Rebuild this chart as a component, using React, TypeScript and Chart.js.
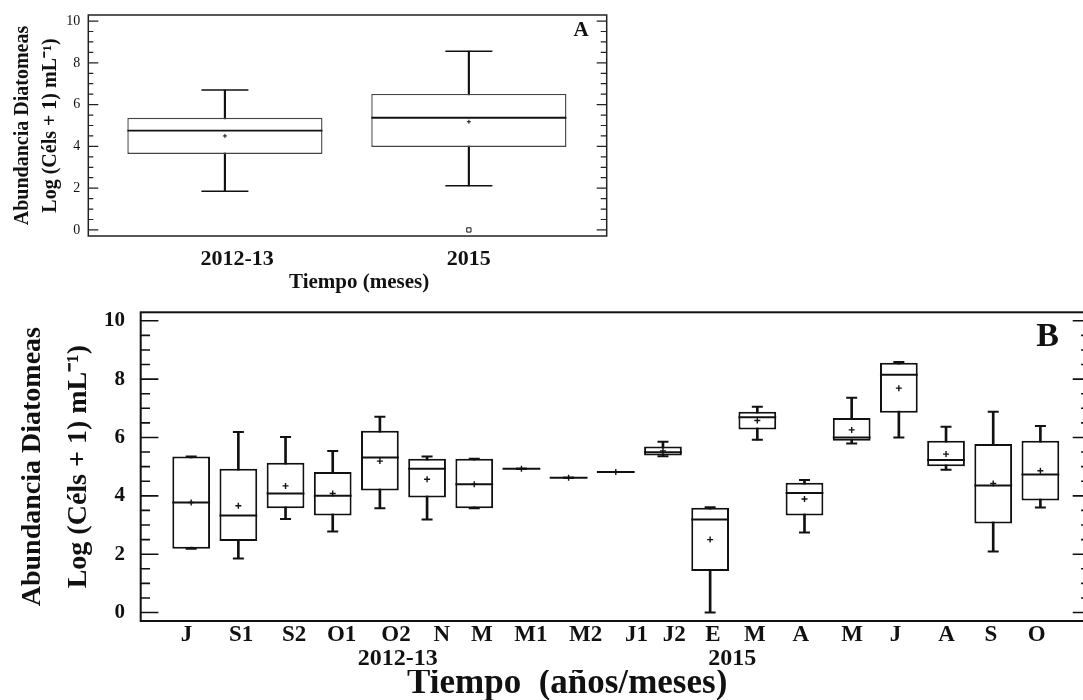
import React, { useEffect, useRef } from 'react';
import { Chart, registerables } from 'chart.js';

Chart.register(...registerables);

const FONT = "'Liberation Serif', 'Times New Roman', Times, serif";

// ---------- Panel A data ----------
const A_CATS = ['2012-13', '2015'];
const A_MIN = [1.85, 2.11];
const A_Q1 = [3.64, 3.97];
const A_MED = [4.75, 5.37];
const A_Q3 = [5.37, 6.51];
const A_MAX = [6.7, 8.56];
const A_MEAN = [4.5, 5.18];
const A_OUT_CAT = [1];
const A_OUT_VAL = [0];
// where the category labels / title sit along the category axis (category units)
const A_LABEL_AT = [0.05, 1.0];
const A_TITLE_AT = 0.55;

// ---------- Panel B data ----------
const B_CATS = ['J', 'S1', 'S2', 'O1', 'O2', 'N', 'M', 'M1', 'M2', 'J1', 'J2', 'E', 'M', 'A', 'M', 'J', 'A', 'S', 'O'];
const B_MIN = [2.19, 1.85, 3.21, 2.78, 3.57, 3.19, 3.57, 4.93, 4.62, 4.82, 5.36, 0.0, 5.92, 2.74, 5.79, 6.0, 4.89, 2.09, 3.6];
const B_Q1 = [2.19, 2.45, 3.57, 3.33, 4.18, 3.94, 3.57, 4.93, 4.62, 4.82, 5.38, 1.42, 6.27, 3.33, 5.89, 6.85, 5.01, 3.05, 3.84];
const B_MED = [3.77, 3.33, 4.08, 4.0, 5.31, 4.93, 4.4, 4.93, 4.62, 4.82, 5.49, 3.19, 6.69, 4.1, 6.0, 8.15, 5.23, 4.35, 4.73];
const B_Q3 = [5.35, 4.93, 5.13, 4.82, 6.23, 5.27, 5.27, 4.93, 4.62, 4.82, 5.69, 3.59, 6.88, 4.45, 6.67, 8.56, 5.89, 5.78, 5.89];
const B_MAX = [5.35, 6.19, 6.02, 5.54, 6.71, 5.35, 5.27, 4.93, 4.62, 4.82, 5.85, 3.61, 7.05, 4.54, 7.36, 8.59, 6.37, 6.88, 6.39];
const B_MEAN = [3.77, 3.66, 4.34, 4.08, 5.19, 4.57, 4.4, 4.93, 4.62, 4.82, 5.54, 2.5, 6.58, 3.89, 6.26, 7.69, 5.43, 4.42, 4.86];
// label anchors along the category axis (category units), as placed in the source figure
const B_LABEL_AT = [-0.1, 1.06, 2.18, 3.19, 4.34, 5.31, 6.16, 7.2, 8.36, 9.44, 10.24, 11.06, 11.95, 12.92, 14.01, 14.93, 16.01, 16.95, 17.92];
const B_YEAR_LABELS = ['2012-13', '2015'];
const B_YEAR_AT = [4.38, 11.47];
const B_TITLE_AT = 7.97;

// ---------- shared axis text ----------
const Y_TICKS = [0, 2, 4, 6, 8, 10];
const Y_MINOR_STEP = 0.5;
const Y_TITLE = ['Abundancia Diatomeas', 'Log (Céls + 1) mL⁻¹)'];
const A_X_TITLE = 'Tiempo (meses)';
const B_X_TITLE = 'Tiempo  (años/meses)';

const framePlugin = {
  id: 'frameTicks',
  afterDraw(chart: any, _args: any, o: any) {
    const { ctx, chartArea: a } = chart;
    const y = chart.scales.y;
    ctx.save();
    ctx.strokeStyle = o.color;
    ctx.lineWidth = o.width;
    ctx.strokeRect(a.left, a.top, a.right - a.left, a.bottom - a.top);
    ctx.lineWidth = o.tickWidth;
    const lo = Y_TICKS[0];
    const hi = Y_TICKS[Y_TICKS.length - 1];
    for (let v = lo; v <= hi + 1e-9; v += Y_MINOR_STEP) {
      const py = y.getPixelForValue(v);
      const major = Y_TICKS.some((t) => Math.abs(t - v) < 1e-9);
      const lenL = major ? o.majorLen : o.minorLen;
      const lenR = major ? o.majorLenR : o.minorLenR;
      ctx.beginPath();
      ctx.moveTo(a.left, py);
      ctx.lineTo(a.left + lenL, py);
      ctx.moveTo(a.right, py);
      ctx.lineTo(a.right - lenR, py);
      ctx.stroke();
    }
    ctx.fillStyle = '#111';
    ctx.font = o.letterFont;
    ctx.textAlign = 'center';
    ctx.textBaseline = 'middle';
    ctx.fillText(o.letter, a.right - o.letterDx, a.top + o.letterDy);
    ctx.restore();
  },
};

function boxDatasets(min: number[], q1: number[], med: number[], q3: number[], max: number[], mean: number[], outCat: number[], outVal: number[], s: any) {
  return [
    {
      type: 'line', label: 'Media', data: mean.map((v, i) => ({ x: i, y: v })), showLine: false,
      pointStyle: 'cross', pointRadius: s.meanR, pointBorderWidth: s.meanW, pointBorderColor: '#111', borderColor: '#111',
    },
    {
      type: 'line', label: 'Atípicos', data: outCat.map((c, k) => ({ x: c, y: outVal[k] })), showLine: false,
      pointStyle: 'rect', pointRadius: s.outR, pointBorderWidth: 1, pointBorderColor: '#111', pointBackgroundColor: '#fff', borderColor: '#111',
    },
    {
      type: 'line', label: 'Mediana', data: med.map((v, i) => ({ x: i, y: v })), showLine: false,
      pointStyle: 'line', pointRadius: s.medR, pointBorderWidth: s.medW, pointBorderColor: '#111', borderColor: '#111',
    },
    {
      type: 'line', label: 'Extremos', data: [...max.map((v, i) => ({ x: i, y: v })), ...min.map((v, i) => ({ x: i, y: v }))], showLine: false,
      pointStyle: 'line', pointRadius: s.capR, pointBorderWidth: s.capW, pointBorderColor: '#111', borderColor: '#111',
    },
    {
      type: 'bar', label: 'Caja', data: q1.map((v, i) => ({ x: i, y: [v, q3[i]] })),
      backgroundColor: '#fff', borderColor: s.boxColor, borderWidth: s.boxW, borderSkipped: false,
      grouped: false, barPercentage: 0.8, categoryPercentage: 1,
    },
    {
      type: 'bar', label: 'Rango', data: min.map((v, i) => ({ x: i, y: [v, max[i]] })),
      backgroundColor: '#111', borderWidth: 0, barThickness: s.whW, grouped: false,
    },
  ];
}

const NO_GRID = { display: false, drawTicks: false, tickLength: 0, offset: false };

function yScale(o: any) {
  return {
    type: 'linear', min: -0.29, max: 10.29, bounds: 'data',
    grid: NO_GRID, border: { display: false },
    afterBuildTicks: (sc: any) => { sc.ticks = Y_TICKS.map((v) => ({ value: v })); },
    afterFit: (sc: any) => { sc.width = o.width; sc.paddingTop = 0; sc.paddingBottom = 0; },
    ticks: { autoSkip: false, padding: o.padding, color: '#111', font: { family: FONT, size: o.size, weight: o.weight }, callback: (v: any) => String(v) },
    title: { display: true, text: Y_TITLE, color: '#111', padding: 0, font: { family: FONT, size: o.titleSize, weight: 'bold', lineHeight: o.titleLH } },
  };
}

// category axis used by the data: one tick per category, labels hidden
function catAxis(base: any, count: number) {
  return {
    ...base,
    weight: 0,
    afterBuildTicks: (sc: any) => { sc.ticks = Array.from({ length: count }, (_, i) => ({ value: i })); },
    afterFit: (sc: any) => { sc.height = 0; sc.paddingLeft = 0; sc.paddingRight = 0; },
    ticks: { display: false, autoSkip: false },
  };
}

// text rows under the plot
function xAxis(base: any, weight: number, height: number, at: number[], labels: string[], size: number, padding: number) {
  return {
    ...base,
    weight,
    afterBuildTicks: (sc: any) => { sc.ticks = at.map((v) => ({ value: v })); },
    afterFit: (sc: any) => { sc.height = height; sc.paddingLeft = 0; sc.paddingRight = 0; },
    ticks: { autoSkip: false, maxRotation: 0, padding, color: '#111', font: { family: FONT, size, weight: 'bold' }, callback: (_v: any, i: number) => labels[i] },
  };
}

function configA(): any {
  const xBase = {
    type: 'linear', axis: 'x', position: 'bottom', min: -0.56, max: 1.565, bounds: 'data', offset: false,
    grid: NO_GRID, border: { display: false },
  };
  return {
    type: 'bar',
    data: { datasets: boxDatasets(A_MIN, A_Q1, A_MED, A_Q3, A_MAX, A_MEAN, A_OUT_CAT, A_OUT_VAL, {
      meanR: 2, meanW: 1, outR: 3, medR: 97.5, medW: 1.8, capR: 23.5, capW: 1.5, boxColor: '#444', boxW: 1.4, whW: 1.5,
    }) },
    plugins: [framePlugin],
    options: {
      responsive: false, maintainAspectRatio: false, animation: false, events: [],
      layout: { autoPadding: false, padding: { left: 8.4, top: 15, right: 33.3, bottom: 0 } },
      plugins: {
        legend: { display: false }, tooltip: { enabled: false },
        frameTicks: { color: '#222', width: 1.5, tickWidth: 1.2, majorLen: 10, minorLen: 5, majorLenR: 10, minorLenR: 6, letter: 'A', letterFont: `bold 21px ${FONT}`, letterDx: 25.7, letterDy: 16 },
      },
      scales: {
        x: catAxis(xBase, A_CATS.length),
        xLab: xAxis(xBase, 1, 34, A_LABEL_AT, A_CATS, 22, 10.1),
        xTitle: xAxis(xBase, 2, 30, [A_TITLE_AT], [A_X_TITLE], 21, 0.3),
        y: yScale({ width: 79.9, padding: 8, size: 14, weight: 'normal', titleSize: 20, titleLH: 1.41 }),
      },
    },
  };
}

function configB(): any {
  const xBase = {
    type: 'linear', axis: 'x', position: 'bottom', min: -1.07, max: 19.06, bounds: 'data', offset: false,
    grid: NO_GRID, border: { display: false },
  };
  return {
    type: 'bar',
    data: { datasets: boxDatasets(B_MIN, B_Q1, B_MED, B_Q3, B_MAX, B_MEAN, [], [], {
      meanR: 3, meanW: 1.4, outR: 3, medR: 18.9, medW: 2, capR: 5.5, capW: 2, boxColor: '#111', boxW: 2, whW: 2,
    }) },
    plugins: [framePlugin],
    options: {
      responsive: false, maintainAspectRatio: false, animation: false, events: [],
      layout: { autoPadding: false, padding: { left: 10, top: 12.3, right: 9.6, bottom: 0 } },
      plugins: {
        legend: { display: false }, tooltip: { enabled: false },
        frameTicks: { color: '#111', width: 2, tickWidth: 1.6, majorLen: 17.7, minorLen: 9.3, majorLenR: 17.7, minorLenR: 9.3, letter: 'B', letterFont: `bold 34px ${FONT}`, letterDx: 42.9, letterDy: 25.2 },
      },
      scales: {
        x: catAxis(xBase, B_CATS.length),
        xLab: xAxis(xBase, 1, 25, B_LABEL_AT, B_CATS, 23, 0),
        xYear: xAxis(xBase, 2, 24, B_YEAR_AT, B_YEAR_LABELS, 24, -1.5),
        xTitle: xAxis(xBase, 3, 30, [B_TITLE_AT], [B_X_TITLE], 35, -6.8),
        y: yScale({ width: 130.7, padding: 15.7, size: 21, weight: 'bold', titleSize: 28, titleLH: 1.64 }),
      },
    },
  };
}

export default function App() {
  const aRef = useRef<HTMLCanvasElement>(null);
  const bRef = useRef<HTMLCanvasElement>(null);
  useEffect(() => {
    const a = new Chart(aRef.current as HTMLCanvasElement, configA());
    const b = new Chart(bRef.current as HTMLCanvasElement, configB());
    return () => {
      a.destroy();
      b.destroy();
    };
  }, []);
  return (
    <div style={{ position: 'fixed', left: 0, top: 0, width: 1083, height: 700, overflow: 'hidden', background: '#fff' }}>
      <canvas ref={aRef} width={640} height={300} style={{ position: 'absolute', left: 0, top: 0 }} />
      <canvas ref={bRef} width={1100} height={400} style={{ position: 'absolute', left: 0, top: 300 }} />
    </div>
  );
}
